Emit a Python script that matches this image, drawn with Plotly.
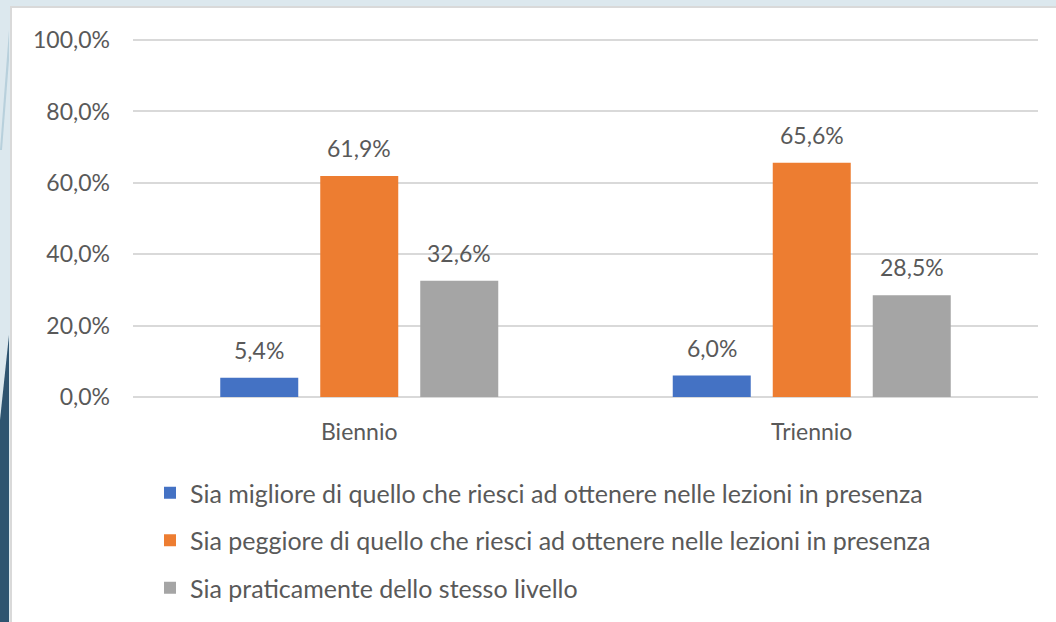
import plotly.graph_objects as go

categories = ["Biennio", "Triennio"]
series_names = [
    "Sia migliore di quello che riesci ad ottenere nelle lezioni in presenza",
    "Sia peggiore di quello che riesci ad ottenere nelle lezioni in presenza",
    "Sia praticamente dello stesso livello",
]
series_values = [
    [0.054, 0.060],
    [0.619, 0.656],
    [0.326, 0.285],
]
series_colors = ["#4472C4", "#ED7D31", "#A5A5A5"]
y_ticks = [0, 0.2, 0.4, 0.6, 0.8, 1.0]

W, H = 1056, 622
L, R, T, B = 133, 18, 39, 225
pw, ph = W - L - R, H - T - B
BARGAP, GROUPGAP = 0.337, 0.22


def px_x(p):
    return (p - L) / pw


def px_y(p):
    return (H - B - p) / ph


FONT = "Lato"
TXT = "#595959"
fig = go.Figure()
n = len(series_names)
slot_px = (1 - BARGAP) * (pw / len(categories)) / n
annotations = []
for i, (name, vals, col) in enumerate(zip(series_names, series_values, series_colors)):
    fig.add_trace(go.Bar(
        x=categories, y=vals, name=name,
        marker=dict(color=col, line=dict(width=0)),
        legendgroup=str(i),
    ))
    for c, v in zip(categories, vals):
        annotations.append(dict(
            x=c, y=v, xref="x", yref="y", text=f"{v*100:.1f}%".replace(".", ","),
            showarrow=False, yanchor="bottom", xanchor="center",
            xshift=(i - (n - 1) / 2) * slot_px, yshift=12,
            font=dict(family=FONT, size=23, color=TXT),
        ))

shapes = [
    dict(type="rect", xref="paper", yref="paper",
         x0=px_x(11), x1=px_x(1060), y0=px_y(630), y1=px_y(7),
         fillcolor="white", line=dict(color="#D9D9D9", width=2), layer="below"),
    dict(type="path", xref="paper", yref="paper",
         path=f"M {px_x(0)},{px_y(420)} L {px_x(9)},{px_y(335)} L {px_x(9)},{px_y(622)} L {px_x(0)},{px_y(622)} Z",
         fillcolor="#2E5470", line=dict(width=0), layer="below"),
    dict(type="path", xref="paper", yref="paper",
         path=f"M {px_x(0)},{px_y(150)} L {px_x(9)},{px_y(30)} L {px_x(9)},{px_y(60)} L {px_x(2)},{px_y(150)} Z",
         fillcolor="#B8D0DC", line=dict(width=0), layer="below"),
]

fig.update_layout(
    width=W, height=H,
    margin=dict(l=L, r=R, t=T, b=B, autoexpand=False),
    paper_bgcolor="#DCE8EE", plot_bgcolor="rgba(0,0,0,0)",
    separators=",.",
    barmode="group", bargap=BARGAP, bargroupgap=GROUPGAP,
    font=dict(family=FONT, size=23, color=TXT),
    shapes=shapes,
    annotations=annotations,
    showlegend=True,
    legend=dict(
        orientation="v", x=px_x(150), y=px_y(470), xanchor="left", yanchor="top",
        font=dict(family=FONT, size=25, color=TXT),
        bgcolor="rgba(0,0,0,0)", tracegroupgap=12, itemwidth=30,
        traceorder="grouped",
    ),
    xaxis=dict(showgrid=False, showline=False, ticks="",
               tickfont=dict(family=FONT, size=23, color=TXT)),
    yaxis=dict(range=[0, 1.003], tickvals=y_ticks, tickformat=".1%",
               showgrid=True, gridcolor="#D9D9D9", gridwidth=2,
               zeroline=True, zerolinecolor="#D9D9D9", zerolinewidth=2,
               showline=False, ticks="", ticklen=0,
               tickfont=dict(family=FONT, size=23, color=TXT)),
)
fig.update_yaxes(ticklabelstandoff=22)
fig.update_xaxes(ticklabelstandoff=19)

fig.write_html("out.html", config={"displayModeBar": False},
               post_script="document.body.style.margin='0';document.body.style.overflow='hidden';")
